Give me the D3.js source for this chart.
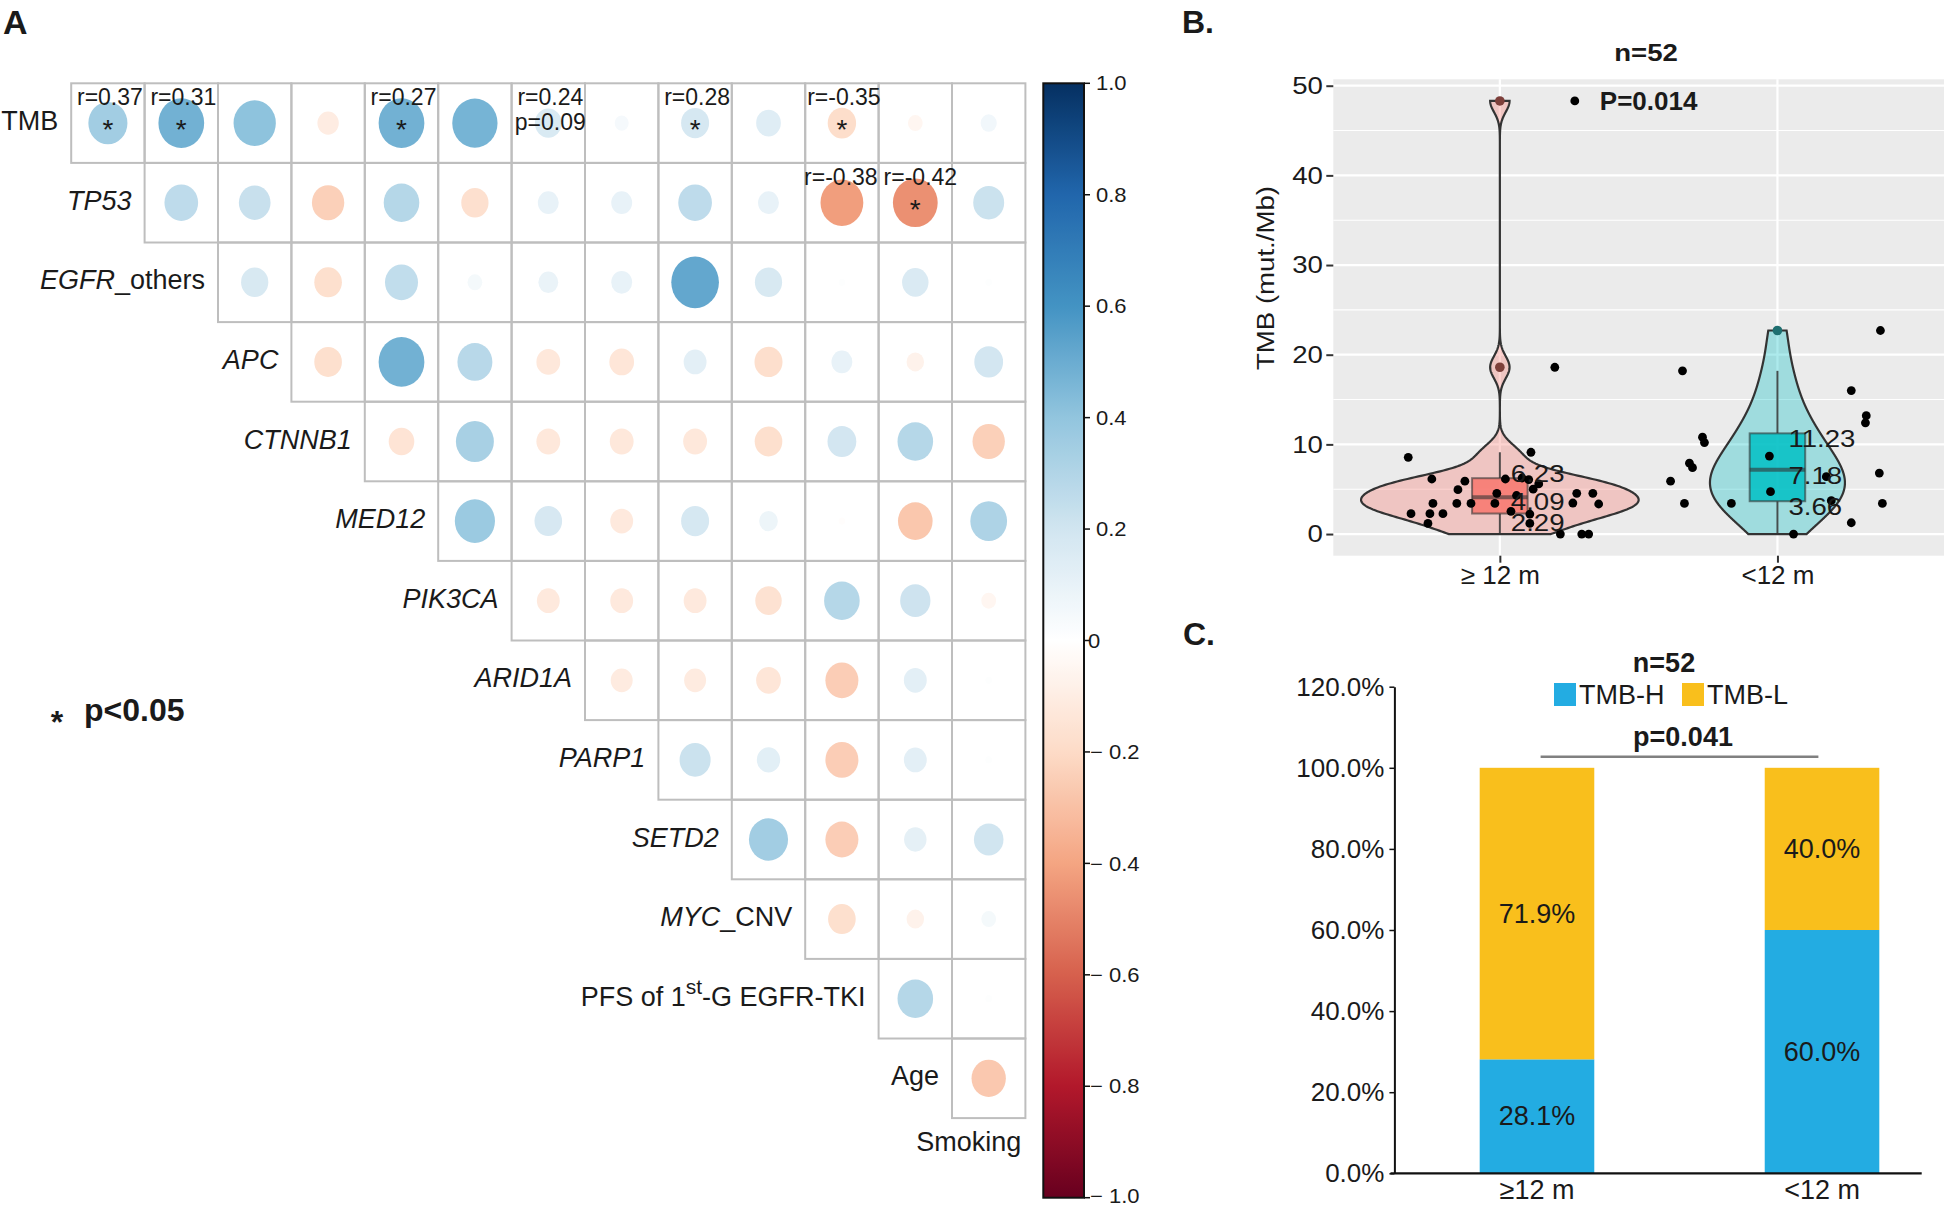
<!DOCTYPE html>
<html><head><meta charset="utf-8">
<script src="https://cdn.jsdelivr.net/npm/d3@7"></script>
<style>body{margin:0;background:#fff}svg{display:block;font-family:"Liberation Sans",Arial,Helvetica,sans-serif}</style>
</head><body>
<svg id="c" width="1944" height="1207"></svg>
<script>
// ---------------- DATA ----------------
// Panel A: correlation matrix (upper triangle, row i vs. variables i+1..13)
const vars = ["TMB","TP53","EGFR_others","APC","CTNNB1","MED12","PIK3CA","ARID1A","PARP1","SETD2","MYC_CNV","PFS of 1st-G EGFR-TKI","Age","Smoking"];
const geneNames = ["TP53","EGFR","APC","CTNNB1","MED12","PIK3CA","ARID1A","PARP1","SETD2","MYC"];
const corrTMB     = [0.35, 0.48, 0.41, -0.105, 0.48, 0.47, 0.165, 0.045, 0.18, 0.14, -0.185, -0.05, 0.06];
const corrTP53    = [0.26, 0.23, -0.24, 0.29, -0.17, 0.10, 0.10, 0.26, 0.10, -0.42, -0.46, 0.22];
const corrEGFR    = [0.17, -0.175, 0.25, 0.05, 0.09, 0.10, 0.52, 0.17, 0.01, 0.16, 0.01];
const corrAPC     = [-0.175, 0.48, 0.28, -0.13, -0.14, 0.12, -0.18, 0.10, -0.07, 0.19];
const corrCTNNB1  = [-0.15, 0.33, -0.13, -0.13, -0.13, -0.175, 0.19, 0.29, -0.24];
const corrMED12   = [0.37, 0.175, -0.12, 0.18, 0.08, -0.01, -0.275, 0.31];
const corrPIK3CA  = [-0.12, -0.12, -0.12, -0.16, 0.29, 0.21, -0.05];
const corrARID1A  = [-0.11, -0.11, -0.14, -0.25, 0.12, 0.01];
const corrPARP1   = [0.22, 0.125, -0.25, 0.12, 0.01];
const corrSETD2   = [0.35, -0.25, 0.115, 0.20];
const corrMYC     = [-0.175, -0.07, 0.05];
const corrPFS     = [0.29, 0.01];
const corrAge     = [-0.27];
const corrRows = [corrTMB, corrTP53, corrEGFR, corrAPC, corrCTNNB1, corrMED12, corrPIK3CA, corrARID1A, corrPARP1, corrSETD2, corrMYC, corrPFS, corrAge];
const starPairs = [[0,1],[0,2],[0,5],[0,9],[0,11],[1,12]];
const rAnnot = [
  {row:0, col:1, lines:["r=0.37"]}, {row:0, col:2, lines:["r=0.31"]}, {row:0, col:5, lines:["r=0.27"]},
  {row:0, col:7, lines:["r=0.24","p=0.09"]}, {row:0, col:9, lines:["r=0.28"]}, {row:0, col:11, lines:["r=-0.35"]},
  {row:1, col:11, lines:["r=-0.38"]}, {row:1, col:12, lines:["r=-0.42"]}
];
const cbTicks = [1.0, 0.8, 0.6, 0.4, 0.2, 0, -0.2, -0.4, -0.6, -0.8, -1.0];
const rdbu = ["#67001F","#B2182B","#D6604D","#F4A582","#FDDBC7","#FFFFFF","#D1E5F0","#92C5DE","#4393C3","#2166AC","#053061"];

// Panel B: TMB by PFS group
const groupsB = ["\u2265 12 m", "<12 m"];
const g1Values = [8.56,6.14,5.9,4.95,3.42,3.42,3.42,3.42,2.27,2.27,2.27,1.19,4.54,6.14,2.53,6.07,9.12,5.59,2.23,1.19,0,3.46,4.54,0,0,4.54,3.35,18.6,48.3,4.3,6.25,5.0];
const g1Jitter = [-0.33,-0.245,-0.126,-0.151,-0.241,-0.155,-0.104,-0.018,-0.32,-0.252,-0.205,-0.259,-0.011,0.02,0.04,0.104,0.112,0.14,0.108,0.108,0.218,0.263,0.277,0.295,0.32,0.335,0.356,0.198,0.27,0.06,0.08,0.12];
const g2Values = [18.2,22.7,16.0,13.2,12.4,10.8,10.2,8.7,7.9,7.4,5.9,6.8,6.4,4.73,3.42,3.42,3.42,3.72,1.26,0];
const g2Jitter = [-0.342,0.371,0.266,0.32,0.317,-0.27,-0.263,-0.029,-0.317,-0.306,-0.385,0.367,0.176,-0.025,-0.335,-0.166,0.378,0.194,0.266,0.058];
const boxQ1 = [2.29, 3.66];
const boxMedian = [4.09, 7.18];
const boxQ3 = [6.23, 11.23];
const whiskerLow = [0, 0];
const whiskerHigh = [9.12, 18.2];
const boxOutliers = [[18.6, 48.3], [22.7]];
const pValueB = "P=0.014";

// Panel C: TMB-H / TMB-L proportions
const groupsC = ["\u226512 m", "<12 m"];
const tmbH = [28.1, 60.0];
const tmbL = [71.9, 40.0];
const pctTicks = [0, 20, 40, 60, 80, 100, 120];

// ---------------- DRAW ----------------
const svg = d3.select("#c");
svg.append("rect").attr("width",1944).attr("height",1207).attr("fill","#fff");
const TXT = "#1a1a1a";
function label(parent, x, y, str, o = {}) {
  return parent.append("text")
    .attr("transform", `translate(${x},${y}) scale(${o.sx || 1},1)`)
    .attr("text-anchor", o.anchor || "start")
    .attr("dominant-baseline", o.base || "central")
    .attr("font-size", o.size || 20)
    .attr("font-weight", o.weight || "normal")
    .attr("fill", o.fill || TXT)
    .text(str);
}

// ===== Panel A =====
const gA = svg.append("g");
label(gA, 3, 22, "A", {size: 34, weight: "bold"});
const xA = d3.scaleLinear().domain([0, 13]).range([71.2, 1025.4]);
const yA = d3.scaleLinear().domain([0, 13]).range([83.3, 1118.1]);
const cw = xA(1) - xA(0), ch = yA(1) - yA(0);
const rX = d3.scaleSqrt().domain([0, 1]).range([0, 0.45 * cw]);
const rY = d3.scaleSqrt().domain([0, 1]).range([0, 0.45 * ch]);
const colA = d3.scaleLinear().domain(rdbu.map((_, i) => -1 + i * 0.2)).range(rdbu).interpolate(d3.interpolateRgb);

const cells = corrRows.flatMap((row, i) => row.map((v, k) => ({i, c: i + k, v})));
gA.append("g").selectAll("rect").data(cells).join("rect")
  .attr("x", d => xA(d.c)).attr("y", d => yA(d.i)).attr("width", cw).attr("height", ch)
  .attr("fill", "none").attr("stroke", "#BEBEBE").attr("stroke-width", 2);
gA.append("g").selectAll("ellipse").data(cells).join("ellipse")
  .attr("cx", d => xA(d.c + 0.5)).attr("cy", d => yA(d.i + 0.5))
  .attr("rx", d => rX(Math.abs(d.v))).attr("ry", d => rY(Math.abs(d.v)))
  .attr("fill", d => colA(d.v));
// stars
gA.append("g").selectAll("text").data(starPairs).join("text")
  .attr("x", d => xA(d[1] - 1 + 0.5)).attr("y", d => yA(d[0] + 0.5) + 16)
  .attr("text-anchor", "middle").attr("font-size", 28).attr("fill", TXT).text("*");
// r annotations (nudged apart when neighbours would collide)
const annNodes = rAnnot.map(a => {
  const g = gA.append("g");
  a.lines.forEach((ln, li) => {
    g.append("text").attr("x", 0).attr("y", li * 25)
      .attr("text-anchor", "middle").attr("font-size", 23).attr("fill", TXT).text(ln);
  });
  const w = d3.max(g.selectAll("text").nodes(), n => n.getComputedTextLength());
  return {a, g, w, cx: xA(a.col - 1 + 0.5) + 2};
});
annNodes.forEach(n => {
  const right = annNodes.find(m => m.a.row === n.a.row && m.a.col === n.a.col + 1);
  if (right) {
    const gap = (right.cx - right.w / 2) - (n.cx + n.w / 2);
    if (gap < 6) { const s = (6 - gap) / 2; n.cx -= s; right.cx += s; }
  }
});
annNodes.forEach(n => n.g.attr("transform", `translate(${n.cx},${yA(n.a.row) + 22})`));
// row labels
function addVarLabel(t, name) {
  if (/1st/.test(name)) {
    const m = name.split("1st");
    t.append("tspan").text(m[0] + "1");
    t.append("tspan").attr("font-size", 21).attr("dy", -11).text("st");
    t.append("tspan").attr("dy", 11).text(m[1]);
    return;
  }
  const parts = name.split("_");
  const head = parts[0];
  t.append("tspan").attr("font-style", geneNames.includes(head) ? "italic" : "normal").text(head);
  if (parts.length > 1) t.append("tspan").text("_" + parts.slice(1).join("_"));
}
vars.forEach((name, i) => {
  let x, y;
  if (i < 13) { x = xA(i) - 13; y = yA(i + 0.5) - 2; }
  else { x = xA(13) - 4; y = yA(13) + 24; }
  const t = gA.append("text").attr("x", x).attr("y", y).attr("text-anchor", "end")
    .attr("dominant-baseline", "central").attr("font-size", 27).attr("fill", TXT);
  addVarLabel(t, name);
});
// significance legend
gA.append("text").attr("x", 57).attr("y", 733).attr("text-anchor", "middle").attr("font-size", 32)
  .attr("font-weight", "bold").attr("fill", TXT).text("*");
gA.append("text").attr("x", 84).attr("y", 721).attr("font-size", 32).attr("font-weight", "bold")
  .attr("fill", TXT).text("p<0.05");

// colour bar
const cbY = d3.scaleLinear().domain([-1, 1]).range([1197.7, 83.3]);
const defs = svg.append("defs");
const grad = defs.append("linearGradient").attr("id", "cbgrad").attr("x1", 0).attr("y1", 0).attr("x2", 0).attr("y2", 1);
d3.range(0, 101).forEach(t => grad.append("stop").attr("offset", t + "%").attr("stop-color", colA(1 - 2 * t / 100)));
const cbX0 = 1043.3, cbX1 = 1084;
gA.append("rect").attr("x", cbX0).attr("y", cbY(1)).attr("width", cbX1 - cbX0).attr("height", cbY(-1) - cbY(1))
  .attr("fill", "url(#cbgrad)").attr("stroke", "#111").attr("stroke-width", 2);
gA.append("g").selectAll("line").data(cbTicks).join("line")
  .attr("x1", cbX1).attr("x2", cbX1 + 6).attr("y1", d => cbY(d)).attr("y2", d => cbY(d))
  .attr("stroke", "#111").attr("stroke-width", 1.5);
cbTicks.forEach(v => {
  const s = v === 0 ? "0" : (v < 0 ? "\u2212 " + Math.abs(v).toFixed(1) : v.toFixed(1));
  const x = v === 0 ? cbX1 + 4 : (v < 0 ? cbX1 + 6 : cbX1 + 12);
  label(gA, x, Math.min(cbY(v), 1196), s, {size: 20, sx: 1.1});
});

// ===== Panel B =====
const gB = svg.append("g");
label(gB, 1182, 22, "B.", {size: 32, weight: "bold"});
const xB = d3.scaleLinear().domain([0.4, 2.6]).range([1333.3, 1944]);
const yB = d3.scaleLinear().domain([-2.415, 50.715]).range([555.7, 79.3]);
const unitB = xB(2) - xB(1);
gB.append("rect").attr("x", xB(0.4)).attr("y", yB(50.715)).attr("width", xB(2.6) - xB(0.4))
  .attr("height", yB(-2.415) - yB(50.715)).attr("fill", "#EBEBEB");
const minorB = [5, 15, 25, 35, 45], majorB = [0, 10, 20, 30, 40, 50];
gB.append("g").selectAll("line").data(minorB).join("line")
  .attr("x1", xB(0.4)).attr("x2", xB(2.6)).attr("y1", d => yB(d)).attr("y2", d => yB(d))
  .attr("stroke", "#fff").attr("stroke-width", 1.1);
gB.append("g").selectAll("line").data(majorB).join("line")
  .attr("x1", xB(0.4)).attr("x2", xB(2.6)).attr("y1", d => yB(d)).attr("y2", d => yB(d))
  .attr("stroke", "#fff").attr("stroke-width", 2.2);
gB.append("g").selectAll("line").data([1, 2]).join("line")
  .attr("x1", d => xB(d)).attr("x2", d => xB(d)).attr("y1", yB(50.715)).attr("y2", yB(-2.415))
  .attr("stroke", "#fff").attr("stroke-width", 2.2);

function kde(values) {
  const s = values.slice().sort(d3.ascending);
  const sd = d3.deviation(s);
  const iqr = d3.quantile(s, 0.75) - d3.quantile(s, 0.25);
  const lo = Math.min(sd, iqr / 1.34) || sd;
  const bw = 0.9 * lo * Math.pow(s.length, -0.2);
  const mn = s[0], mx = s[s.length - 1];
  return d3.range(512).map(k => {
    const y = mn + (mx - mn) * k / 511;
    const d = d3.mean(s, v => Math.exp(-0.5 * ((y - v) / bw) ** 2)) / (bw * Math.sqrt(2 * Math.PI));
    return [y, d];
  });
}
const dens = [kde(g1Values), kde(g2Values)];
const dMax = d3.max(dens.flat(), d => d[1]);
const fillsB = ["#F8766D", "#00BFC4"];
const outFill = ["#7d3f3a", "#1f6f70"];
dens.forEach((dd, gi) => {
  const cx = xB(gi + 1);
  const area = d3.area().y(d => yB(d[0]))
    .x0(d => cx - d[1] / dMax * unitB / 2).x1(d => cx + d[1] / dMax * unitB / 2);
  gB.append("path").attr("d", area(dd)).attr("fill", fillsB[gi]).attr("fill-opacity", 0.32)
    .attr("stroke", "#333").attr("stroke-width", 2.2);
});
// boxplots
const bw2 = 0.1 * unitB;
[0, 1].forEach(gi => {
  const cx = xB(gi + 1);
  const g = gB.append("g");
  g.append("line").attr("x1", cx).attr("x2", cx).attr("y1", yB(boxQ3[gi])).attr("y2", yB(whiskerHigh[gi]))
    .attr("stroke", "#333").attr("stroke-opacity", 0.85).attr("stroke-width", 2);
  g.append("line").attr("x1", cx).attr("x2", cx).attr("y1", yB(boxQ1[gi])).attr("y2", yB(whiskerLow[gi]))
    .attr("stroke", "#333").attr("stroke-opacity", 0.85).attr("stroke-width", 2);
  g.append("rect").attr("x", cx - bw2).attr("width", 2 * bw2).attr("y", yB(boxQ3[gi]))
    .attr("height", yB(boxQ1[gi]) - yB(boxQ3[gi])).attr("fill", fillsB[gi]).attr("fill-opacity", 0.85)
    .attr("stroke", "#333").attr("stroke-opacity", 0.6).attr("stroke-width", 2);
  g.append("line").attr("x1", cx - bw2).attr("x2", cx + bw2).attr("y1", yB(boxMedian[gi])).attr("y2", yB(boxMedian[gi]))
    .attr("stroke", "#333").attr("stroke-opacity", 0.6).attr("stroke-width", 4);
  g.selectAll("circle").data(boxOutliers[gi]).join("circle")
    .attr("cx", cx).attr("cy", d => yB(d)).attr("r", 4.8).attr("fill", outFill[gi]);
});
// jittered points
const ptsB = g1Values.map((v, k) => ({g: 0, v, j: g1Jitter[k]}))
  .concat(g2Values.map((v, k) => ({g: 1, v, j: g2Jitter[k]})));
gB.append("g").selectAll("circle").data(ptsB).join("circle")
  .attr("cx", d => xB(d.g + 1 + d.j)).attr("cy", d => yB(d.v)).attr("r", 4.4).attr("fill", "#000");
// box stat labels
const offs = [[-4.5, 4, 9], [5, 6, 5]];
[0, 1].forEach(gi => {
  [boxQ3[gi], boxMedian[gi], boxQ1[gi]].forEach((v, k) => {
    label(gB, xB(gi + 1) + 11, yB(v) + offs[gi][k], v.toFixed(2), {size: 24, sx: 1.15});
  });
});
// axes B
const axLB = gB.append("g").attr("transform", `translate(${xB(0.4)},0)`)
  .call(d3.axisLeft(yB).tickValues(majorB).tickSize(7).tickPadding(2));
axLB.select(".domain").remove();
axLB.selectAll(".tick line").attr("stroke", "#333").attr("stroke-width", 2);
axLB.selectAll("text").attr("font-size", 24).attr("fill", TXT).attr("font-family", null)
  .attr("transform", "scale(1.15,1)");
const axBB = gB.append("g").attr("transform", `translate(0,${yB(-2.415)})`)
  .call(d3.axisBottom(xB).tickValues([1, 2]).tickFormat(d => groupsB[d - 1]).tickSize(7).tickPadding(3));
axBB.select(".domain").remove();
axBB.selectAll(".tick line").attr("stroke", "#333").attr("stroke-width", 2);
axBB.selectAll("text").attr("font-size", 26).attr("fill", TXT).attr("font-family", null);
gB.append("text").attr("transform", `translate(1266,278) rotate(-90) scale(1.15,1)`)
  .attr("text-anchor", "middle").attr("dominant-baseline", "central").attr("font-size", 24)
  .attr("fill", TXT).text("TMB (mut./Mb)");
label(gB, 1646, 53, "n=52", {size: 24, weight: "bold", anchor: "middle", sx: 1.15});
label(gB, xB(1.36), yB(48.3), pValueB, {size: 26, weight: "bold"});

// ===== Panel C =====
const gC = svg.append("g");
label(gC, 1183, 634, "C.", {size: 32, weight: "bold"});
const yC = d3.scaleLinear().domain([0, 120]).range([1173.3, 686.7]);
const xC = d3.scaleBand().domain(groupsC).range([1394.4, 1921.7]).paddingInner(0.598).paddingOuter(0.224).align(0.668);
const stackData = groupsC.map((g, i) => ({g, H: tmbH[i], L: tmbL[i]}));
const series = d3.stack().keys(["H", "L"])(stackData);
const colC = {H: "#23ACE2", L: "#F9BF1C"};
series.forEach(s => {
  gC.append("g").selectAll("rect").data(s).join("rect")
    .attr("x", d => xC(d.data.g)).attr("width", xC.bandwidth())
    .attr("y", d => yC(d[1])).attr("height", d => yC(d[0]) - yC(d[1])).attr("fill", colC[s.key]);
  s.forEach(d => {
    const v = d[1] - d[0];
    label(gC, xC(d.data.g) + xC.bandwidth() / 2, yC((d[0] + d[1]) / 2), v.toFixed(1) + "%",
      {size: 27, anchor: "middle"});
  });
});
const axLC = gC.append("g").attr("transform", "translate(1394.4,0)")
  .call(d3.axisLeft(yC).tickValues(pctTicks).tickFormat(d => d.toFixed(1) + "%").tickSize(5).tickSizeOuter(0).tickPadding(5));
axLC.select(".domain").attr("stroke", "#111").attr("stroke-width", 2);
axLC.selectAll(".tick line").attr("stroke", "#111").attr("stroke-width", 1.5);
axLC.selectAll("text").attr("font-size", 26).attr("fill", TXT).attr("font-family", null);
gC.append("line").attr("x1", 1390.5).attr("x2", 1921.7).attr("y1", yC(0)).attr("y2", yC(0))
  .attr("stroke", "#111").attr("stroke-width", 2.2);
groupsC.forEach(g => label(gC, xC(g) + xC.bandwidth() / 2, 1190, g, {size: 27, anchor: "middle"}));
label(gC, 1664, 663, "n=52", {size: 27, weight: "bold", anchor: "middle"});
gC.append("rect").attr("x", 1554).attr("y", 683).attr("width", 22).attr("height", 23).attr("fill", colC.H);
label(gC, 1579, 695, "TMB-H", {size: 27});
gC.append("rect").attr("x", 1682).attr("y", 683).attr("width", 22).attr("height", 23).attr("fill", colC.L);
label(gC, 1707, 695, "TMB-L", {size: 27});
label(gC, 1683, 737, "p=0.041", {size: 27, weight: "bold", anchor: "middle"});
gC.append("line").attr("x1", 1540.6).attr("x2", 1818.4).attr("y1", 756.7).attr("y2", 756.7)
  .attr("stroke", "#808080").attr("stroke-width", 2.5);
</script>
</body></html>
